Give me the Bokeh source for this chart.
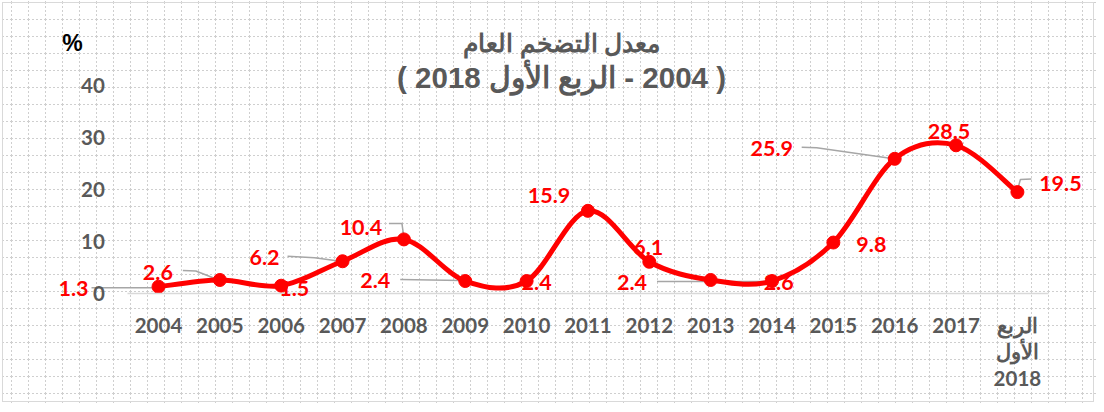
from bokeh.plotting import figure
from bokeh.models import (Range1d, LabelSet, Label, ColumnDataSource, LinearAxis,
                          FixedTicker, InlineStyleSheet)
from bokeh.embed import file_html
from bokeh.resources import INLINE
from bokeh.core.properties import value

# ---------------- data ----------------
categories = ["2004", "2005", "2006", "2007", "2008", "2009", "2010", "2011",
              "2012", "2013", "2014", "2015", "2016", "2017", "الربع\nالأول\n2018"]
inflation = [1.3, 2.6, 1.5, 6.2, 10.4, 2.4, 2.4, 15.9, 6.1, 2.6, 2.4, 9.8, 25.9, 28.5, 19.5]
y_ticks = [0, 10, 20, 30, 40]
title_line1 = "معدل التضخم العام"
title_line2 = "\u202B( 2004 - الربع الأول 2018 )\u202C"
unit_text = "%"

# ---------------- layout (pixels) ----------------
W, H = 1096, 404
X0_PX, DX_PX = 158.0, 61.35      # screen x of first category, spacing
Y0_PX, DY_PX = 293.0, 5.2        # screen y of value 0, px per unit

# label offsets from each point (px, y up)
label_dx = [-85, -62, 13, -78, -43, -90, 10, -39, -1, 68, -140, 38, -123, -7, 43]
label_dy = [-2, 7.5, -3, 4, 12, 0.5, -1.5, 15, 14.6, -3, -1, -2, 10, 14, 8.6]
# leader lines (px offsets from point)
leaders = {
    0: [(-67, -1), (-6, -1)],
    1: [(-37, 9.5), (-24, 9), (-1, 0)],
    3: [(-55, 5), (-28, 3.5), (-2, 0)],
    4: [(-15, 16), (-2, 16), (0, 2)],
    5: [(-65, 1.5), (-4, 0.5)],
    10: [(-115, -0.5), (-2, -0.5)],
    12: [(-93, 11.6), (-78, 11), (-1, 0)],
    14: [(14, 13), (3, 12.6), (0, 2)],
}

RED = "#ff0000"
GREY_TXT = "#595959"

n = len(categories)
xs = list(range(n))

x_range = Range1d(-X0_PX / DX_PX, (W - X0_PX) / DX_PX)
y_range = Range1d(-(H - Y0_PX) / DY_PX, Y0_PX / DY_PX)

p = figure(width=W, height=H, x_range=x_range, y_range=y_range,
           x_axis_type=None, y_axis_type=None,
           output_backend="svg", toolbar_location=None, min_border=0)

p.border_fill_color = None
p.background_fill_color = None
p.outline_line_color = None

grid_svg = ("data:image/svg+xml;utf8,<svg xmlns='http://www.w3.org/2000/svg' width='17' height='17'>"
            "<path d='M0.5 0V17M0 0.5H17' stroke='%23cfcfcf' stroke-width='1' "
            "stroke-dasharray='2 2' fill='none'/></svg>")
css = (':host { background-color: white; background-image: url("' + grid_svg + '"); '
       'background-position: 11px 2px; outline: 1px solid #d9d9d9; outline-offset: -3px; }')
p.stylesheets = [InlineStyleSheet(css=css)]

# axes drawn inside the frame at fixed locations
xaxis = LinearAxis(fixed_location=0, bounds=(-0.5, n - 0.5),
                   ticker=FixedTicker(ticks=xs),
                   major_label_overrides={i: c for i, c in enumerate(categories)})
yaxis = LinearAxis(fixed_location=-0.5, ticker=FixedTicker(ticks=y_ticks))
for ax in (xaxis, yaxis):
    ax.major_tick_line_color = None
    ax.minor_tick_line_color = None
    ax.major_label_text_font = "Lato"
    ax.major_label_text_font_size = "20.5px"
    ax.major_label_text_font_style = "bold"
    ax.major_label_text_color = GREY_TXT
xaxis.axis_line_color = "#d9d9d9"
xaxis.axis_line_width = 1.5
xaxis.major_label_standoff = 13
xaxis.major_label_text_line_height = 1.12
yaxis.axis_line_color = None
yaxis.major_label_standoff = 17
p.add_layout(xaxis, "below")
p.add_layout(yaxis, "left")

# leader lines
lx, ly = [], []
for i, pts in leaders.items():
    lx.append([xs[i] + dx / DX_PX for dx, dy in pts])
    ly.append([inflation[i] + dy / DY_PX for dx, dy in pts])
p.multi_line(xs=lx, ys=ly, line_color="#a6a6a6", line_width=1.5)

# smoothed line (Catmull-Rom style bezier, like Excel's smoothing)
bx0, by0, bx1, by1, cx0, cy0, cx1, cy1 = ([] for _ in range(8))
for i in range(n - 1):
    a, b, c, d = max(i - 1, 0), i, i + 1, min(i + 2, n - 1)
    bx0.append(xs[b]); by0.append(inflation[b])
    bx1.append(xs[c]); by1.append(inflation[c])
    cx0.append(xs[b] + (xs[c] - xs[a]) / 6); cy0.append(inflation[b] + (inflation[c] - inflation[a]) / 6)
    cx1.append(xs[c] - (xs[d] - xs[b]) / 6); cy1.append(inflation[c] - (inflation[d] - inflation[b]) / 6)
p.bezier(x0=bx0, y0=by0, x1=bx1, y1=by1, cx0=cx0, cy0=cy0, cx1=cx1, cy1=cy1,
         line_color=RED, line_width=5, line_cap="round")

src = ColumnDataSource(dict(x=xs, y=inflation, text=[f"{v:.1f}" for v in inflation],
                            dx=label_dx, dy=label_dy))
p.scatter("x", "y", source=src, size=13, fill_color=RED, line_color=RED)

p.add_layout(LabelSet(x="x", y="y", text="text", source=src, x_offset="dx", y_offset="dy",
                      text_align="center", text_baseline="middle", text_color=RED,
                      text_font=value("Lato"), text_font_size="21.5px", text_font_style="bold"))

# titles (screen units; frame covers the whole canvas)
p.add_layout(Label(x=561, y=H - 42, x_units="screen", y_units="screen",
                   text=title_line1, text_align="center", text_baseline="middle",
                   text_color=GREY_TXT, text_font="Liberation Sans",
                   text_font_size="25px", text_font_style="bold"))
p.add_layout(Label(x=561, y=H - 77, x_units="screen", y_units="screen",
                   text=title_line2, text_align="center", text_baseline="middle",
                   text_color=GREY_TXT, text_font="Liberation Sans",
                   text_font_size="29.5px", text_font_style="bold"))
p.add_layout(Label(x=72, y=H - 42, x_units="screen", y_units="screen",
                   text=unit_text, text_align="center", text_baseline="middle",
                   text_color="#000000", text_font="Liberation Sans",
                   text_font_size="23px", text_font_style="bold"))

open("out.html", "w").write(file_html(p, INLINE))
